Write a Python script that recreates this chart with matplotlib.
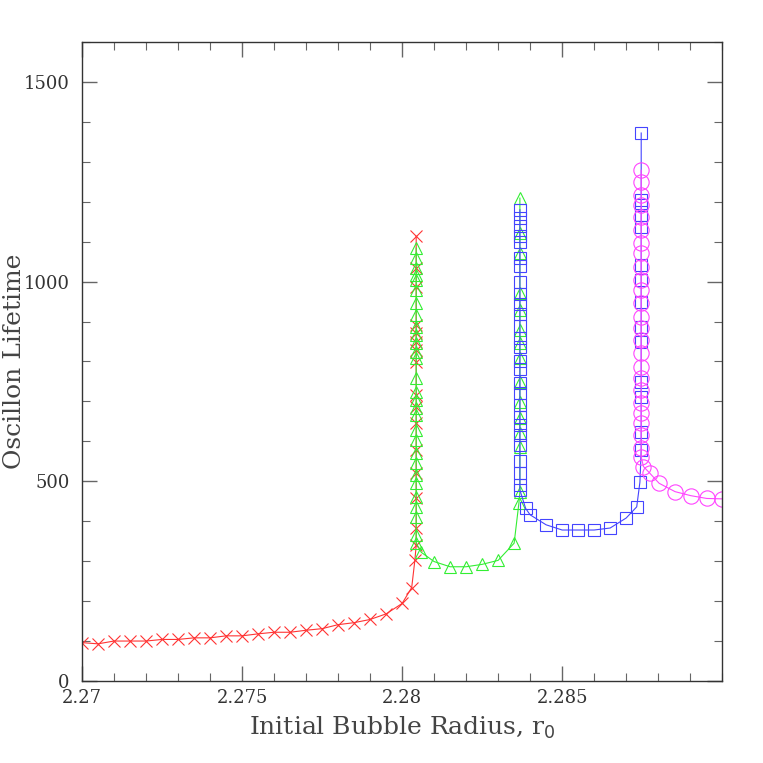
import matplotlib.pyplot as plt
from matplotlib.ticker import MultipleLocator, FixedLocator, FixedFormatter

# red crosses: smooth rise, then a vertical spike at r0 = 2.28044
red_r = [2.2700, 2.2705, 2.2710, 2.2715, 2.2720, 2.2725, 2.2730, 2.2735, 2.2740,
         2.2745, 2.2750, 2.2755, 2.2760, 2.2765, 2.2770, 2.2775, 2.2780, 2.2785,
         2.2790, 2.2795, 2.2800, 2.28030, 2.28040]
red_t = [96, 93, 100, 100, 100, 104, 104, 108, 108,
         113, 113, 118, 122, 122, 127, 131, 141, 146,
         154, 168, 194, 234, 303]
red_spike_r = 2.28044
red_spike_t = [340, 383, 458, 521, 578, 646, 686, 716, 799, 829, 849, 871,
               891, 987, 1034, 1113]

# green triangles: spike at 2.28044, valley, spike at 2.28368
green_spike1_r = 2.28044
green_spike1_t = [1084, 1059, 1034, 1017, 1004, 979, 946, 916, 886, 866, 846,
                  824, 809, 759, 724, 704, 684, 666, 628, 603, 571, 546, 516,
                  496, 461, 436, 411, 366, 345]
green_mid_r = [2.28060, 2.2810, 2.2815, 2.2820, 2.2825, 2.2830, 2.2835, 2.28365]
green_mid_t = [322, 299, 286, 286, 292, 302, 345, 446]
green_spike2_r = 2.28368
green_spike2_t = [473, 586, 621, 659, 699, 749, 809, 846, 879, 929, 971, 1071,
                  1121, 1209]

# blue squares: spike at 2.28368, valley, spike at 2.28747
blue_spike1_r = 2.28368
blue_spike1_t = [1180, 1160, 1140, 1115, 1100, 1060, 1040, 1000, 970, 945, 920,
                 890, 860, 835, 800, 780, 745, 720, 690, 660, 640, 615, 590,
                 550, 520, 490, 478]
blue_mid_r = [2.28386, 2.2840, 2.2845, 2.2850, 2.2855, 2.2860, 2.2865, 2.2870,
              2.28733, 2.28743]
blue_mid_t = [432, 416, 391, 378, 378, 378, 383, 408, 436, 498]
blue_spike2_r = 2.28747
blue_spike2_t = [578, 623, 711, 749, 849, 886, 949, 1004, 1042, 1137, 1167,
                 1192, 1204, 1372]

# magenta circles: spike at 2.28747, then decay
mag_spike_r = 2.28747
mag_spike_t = [1279, 1249, 1217, 1192, 1162, 1129, 1097, 1072, 1037, 1004, 979,
               946, 911, 884, 854, 821, 786, 759, 729, 696, 671, 646, 616, 583,
               561]
mag_tail_r = [2.28754, 2.28773, 2.28803, 2.28853, 2.28902, 2.28952, 2.29000]
mag_tail_t = [537, 521, 495, 474, 464, 457, 456]

red_x = red_r + [red_spike_r] * len(red_spike_t)
red_y = red_t + red_spike_t
green_x = ([green_spike1_r] * len(green_spike1_t) + green_mid_r
           + [green_spike2_r] * len(green_spike2_t))
green_y = green_spike1_t + green_mid_t + green_spike2_t
blue_x = ([blue_spike1_r] * len(blue_spike1_t) + blue_mid_r
          + [blue_spike2_r] * len(blue_spike2_t))
blue_y = blue_spike1_t + blue_mid_t + blue_spike2_t
mag_x = [mag_spike_r] * len(mag_spike_t) + mag_tail_r
mag_y = mag_spike_t + mag_tail_t

plt.rcParams['font.family'] = ['DejaVu Serif']

fig = plt.figure(figsize=(7.63, 7.63), dpi=100)
ax = fig.add_axes([0.1075, 0.1075, 0.839, 0.8375])

ax.plot(red_x, red_y, color='#ff3333', lw=0.8, marker='x', ms=8, mew=0.8)
ax.plot(green_x, green_y, color='#33ee33', lw=0.8, marker='^', ms=9, mew=0.8,
        mfc='none')
ax.plot(blue_x, blue_y, color='#4444ff', lw=0.8, marker='s', ms=8, mew=0.8,
        mfc='none')
ax.plot(mag_x, mag_y, color='#ff44ff', lw=0.8, marker='o', ms=11, mew=0.8,
        mfc='none')

ax.set_xlim(2.27, 2.29)
ax.set_ylim(0, 1600)

ax.xaxis.set_major_locator(FixedLocator([2.27, 2.275, 2.28, 2.285]))
ax.xaxis.set_major_formatter(FixedFormatter(['2.27', '2.275', '2.28', '2.285']))
ax.xaxis.set_minor_locator(MultipleLocator(0.001))
ax.yaxis.set_major_locator(MultipleLocator(500))
ax.yaxis.set_minor_locator(MultipleLocator(100))

ax.tick_params(which='both', direction='in', top=True, right=True,
               color='#666666', labelsize=13, labelcolor='#333333')
ax.tick_params(which='major', length=11, width=1)
ax.tick_params(which='minor', length=6, width=0.8)
ax.tick_params(axis='x', pad=6)
ax.tick_params(axis='y', pad=9)

for s in ax.spines.values():
    s.set_color('#333333')
    s.set_linewidth(1)

ax.set_xlabel('Initial Bubble Radius, r$_0$', fontsize=18, color='#444444')
ax.set_ylabel('Oscillon Lifetime', fontsize=18, color='#444444')
ax.xaxis.set_label_coords(0.5, -0.053)
ax.yaxis.set_label_coords(-0.088, 0.5)

fig.savefig('out.png', dpi=100)
